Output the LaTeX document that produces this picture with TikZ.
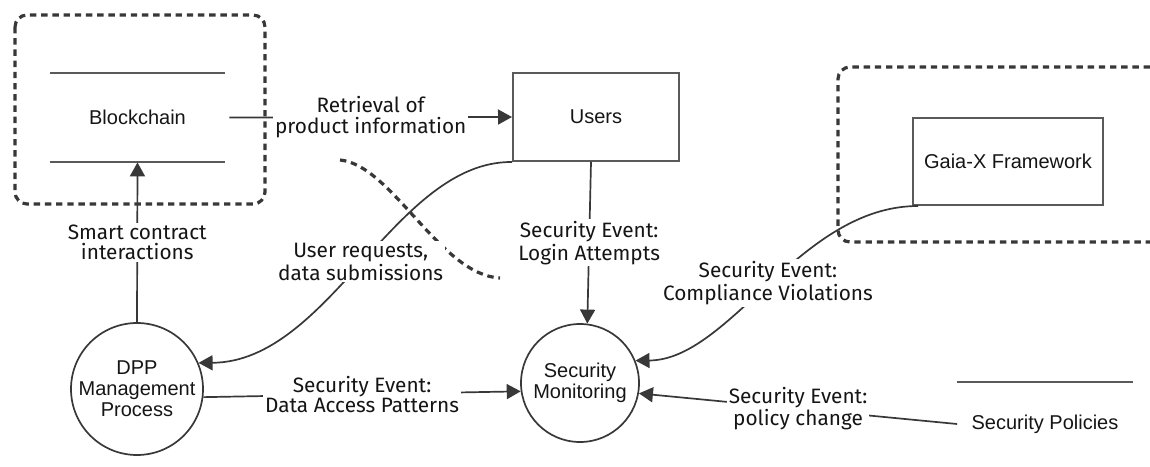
\documentclass[tikz,border=0pt]{standalone}
\usepackage{fontspec}
\setmainfont{Liberation Sans}
\newfontfamily\lblfont{Fira Sans}
\usetikzlibrary{arrows.meta}
\definecolor{lc}{HTML}{383838}
\definecolor{bc}{HTML}{5A5A5A}
\definecolor{tc}{HTML}{151515}
\tikzset{
  conn/.style={draw=lc, line width=0.85pt, -{Triangle[length=7pt,width=7.5pt]}},
  plain/.style={draw=lc, line width=0.85pt},
  lbl/.style={fill=white, inner sep=1pt, align=center, text=tc,
    font=\lblfont\fontsize{10.4}{10.2}\selectfont},
  proc/.style={circle, draw=lc, line width=0.85pt, align=center, inner sep=0pt,
    text=tc, font=\fontsize{10}{10.5}\selectfont},
  entity/.style={rectangle, draw=bc, line width=1pt, inner sep=0pt, text=tc,
    font=\fontsize{10}{12}\selectfont},
  store/.style={rectangle, inner sep=0pt, text=tc, font=\fontsize{10}{12}\selectfont},
  storeline/.style={draw=bc, line width=1pt},
  boundary/.style={draw=lc, line width=1.6pt, dash pattern=on 3.2pt off 2.4pt, rounded corners=6pt}
}
\begin{document}
\begin{tikzpicture}[x=0.5pt,y=-0.5pt]
\useasboundingbox (0,0) rectangle (1150,466);

% trust boundaries
\draw[boundary] (15,15) rectangle (265,204);
\draw[boundary] (1150,67) -- (838,67) -- (838,242) -- (1150,242);
\draw[boundary, rounded corners=0pt] (340,160) .. controls (392,165) and (440,275) .. (500,278);

% nodes
\node[store, minimum width=87.5pt, minimum height=44.5pt] (bc) at (137.5,117.5) {Blockchain};
\draw[storeline] (bc.north west) -- (bc.north east);
\draw[storeline] (bc.south west) -- (bc.south east);

\node[entity, minimum width=83pt, minimum height=44pt] (users) at (596,117) {Users};
\node[entity, minimum width=95pt, minimum height=43.5pt] (gaia) at (1008,161.5) {Gaia-X Framework};

\node[proc, minimum size=66pt] (dpp) at (137,389) {DPP\\Management\\Process};
\node[proc, minimum size=59pt] (sm) at (580,383) {Security\\Monitoring};

\node[store, minimum width=87.5pt, minimum height=42pt] (sp) at (1045,424) {Security Policies};
\draw[storeline] (sp.north west) -- (sp.north east);

% connectors
\draw[conn] ([xshift=2pt]bc.east) -- node[lbl] {Retrieval of\\product information} (users.west);
\draw[conn] (dpp.north) -- node[lbl] {Smart contract\\interactions} (bc.south);
\draw[conn] ([xshift=-2.5pt]users.south) -- node[lbl] {Security Event:\\Login Attempts} (sm.83);
\draw[conn] (users.south west) .. controls (395,161) and (330,362) .. node[lbl, pos=0.5] {User requests,\\data submissions} (dpp.23);
\draw[conn] ([xshift=3pt]gaia.south west) .. controls (800,206) and (730,360) .. node[lbl, pos=0.5] {Security Event:\\Compliance Violations} (sm.22);
\draw[conn] (dpp.-7) -- node[lbl] {Security Event:\\Data Access Patterns} (sm.188);
\draw[conn] (sp.west) -- node[lbl] {Security Event:\\policy change} (sm.-10);
\end{tikzpicture}
\end{document}
